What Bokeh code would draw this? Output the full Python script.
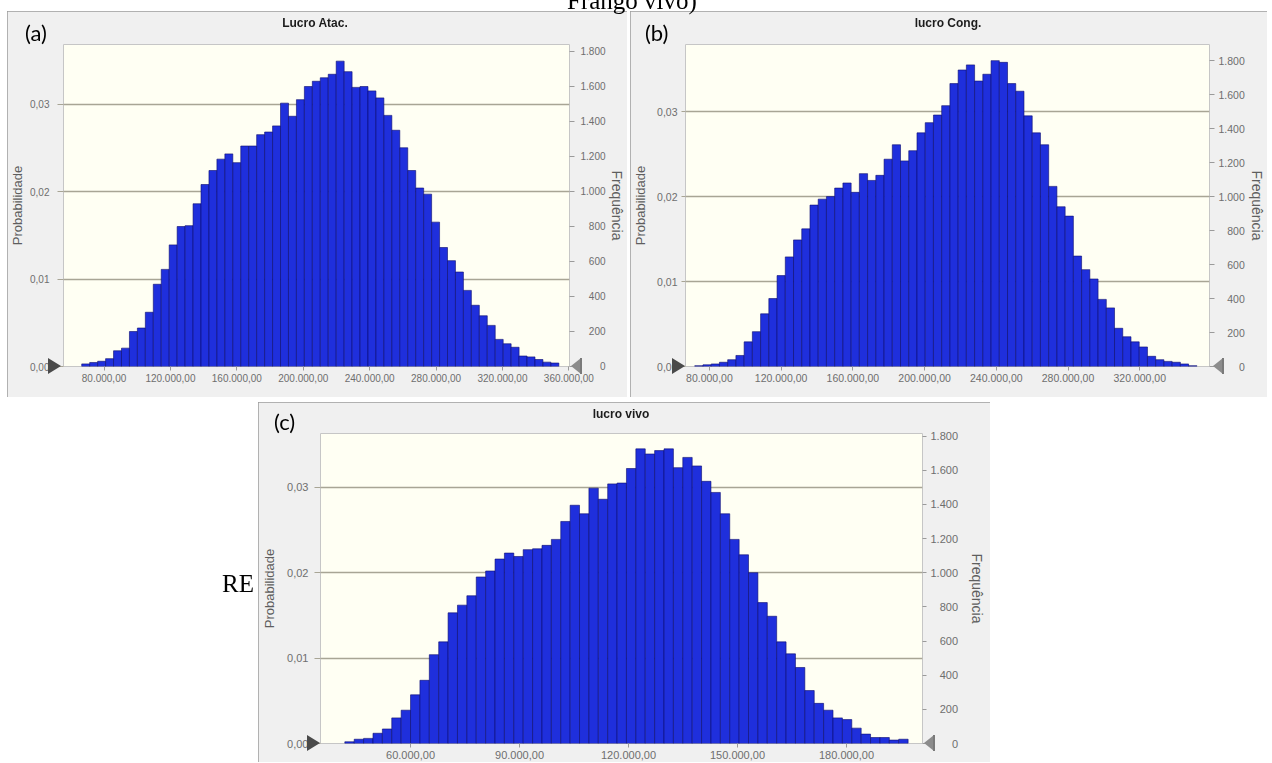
import numpy as np
from bokeh.plotting import figure
from bokeh.models import (Range1d, LinearAxis, FixedTicker, CustomJSTickFormatter, Div, Spacer)
from bokeh.layouts import row, column
from bokeh.embed import file_html
from bokeh.resources import INLINE

# ---------------- data ----------------
N_TRIALS = 50000

titles = ["Lucro Atac.", "lucro Cong.", "lucro vivo"]
tags = ["(a)", "(b)", "(c)"]

# probability of each histogram bin
prob_a = [0.0003, 0.00046, 0.0006, 0.0009, 0.0018, 0.0021, 0.0040, 0.0044, 0.0062, 0.0094,
          0.0111, 0.0139, 0.0160, 0.0161, 0.0186, 0.0208, 0.0224, 0.0237, 0.0243, 0.0233,
          0.0252, 0.0252, 0.0265, 0.0268, 0.0275, 0.0301, 0.0286, 0.0305, 0.0320, 0.0326,
          0.0330, 0.0334, 0.0349, 0.0337, 0.0319, 0.0320, 0.0315, 0.0307, 0.0287, 0.0270,
          0.0250, 0.0224, 0.0204, 0.0197, 0.0165, 0.0136, 0.0121, 0.0108, 0.0087, 0.0070,
          0.0058, 0.0047, 0.0031, 0.0026, 0.0022, 0.0012, 0.0011, 0.0008, 0.0005, 0.0004]

prob_b = [0.0001, 0.0002, 0.0003, 0.0005, 0.0008, 0.0013, 0.0029, 0.0041, 0.0062, 0.0080,
          0.0107, 0.0129, 0.0149, 0.0162, 0.0190, 0.0197, 0.0200, 0.0210, 0.0216, 0.0205,
          0.0227, 0.0219, 0.0225, 0.0244, 0.0261, 0.0242, 0.0254, 0.0275, 0.0287, 0.0296,
          0.0307, 0.0333, 0.0349, 0.0355, 0.0336, 0.0344, 0.0360, 0.0358, 0.0333, 0.0324,
          0.0295, 0.0275, 0.0261, 0.0212, 0.0188, 0.0177, 0.0130, 0.0114, 0.0103, 0.0079,
          0.0069, 0.0045, 0.0035, 0.0029, 0.0023, 0.0012, 0.0008, 0.0006, 0.0005, 0.0003,
          0.0001]

prob_c = [0.0002, 0.0005, 0.0006, 0.0012, 0.0017, 0.0030, 0.0039, 0.0057, 0.0074, 0.0104,
          0.0119, 0.0153, 0.0162, 0.0173, 0.0195, 0.0202, 0.0216, 0.0223, 0.0219, 0.0227,
          0.0228, 0.0232, 0.0239, 0.0260, 0.0279, 0.0269, 0.0299, 0.0286, 0.0304, 0.0305,
          0.0322, 0.0345, 0.0339, 0.0343, 0.0345, 0.0323, 0.0335, 0.0325, 0.0307, 0.0294,
          0.0269, 0.0239, 0.0221, 0.0200, 0.0165, 0.0149, 0.0119, 0.0105, 0.0089, 0.0062,
          0.0047, 0.0039, 0.0030, 0.0028, 0.0018, 0.0011, 0.0007, 0.0007, 0.0004, 0.0005]

# histogram value span (first bin left edge, last bin right edge)
bins_a = (66560, 353960)
bins_b = (71830, 351830)
bins_c = (41910, 196960)

# axis ranges
xrange_a = (55580, 360380)
xrange_b = (66670, 358890)
xrange_c = (35215, 200920)
ymax_a = 0.0368
ymax_b = 0.0379
ymax_c = 0.0363

xticks_a = [80000, 120000, 160000, 200000, 240000, 280000, 320000, 360000]
xticks_b = [80000, 120000, 160000, 200000, 240000, 280000, 320000]
xticks_c = [60000, 90000, 120000, 150000, 180000]
prob_ticks = [0.0, 0.01, 0.02, 0.03]
grid_ticks = [0.01, 0.02, 0.03]
freq_ticks = [0, 200, 400, 600, 800, 1000, 1200, 1400, 1600, 1800]

# ---------------- style / layout ----------------
PANEL_BG = "#f0f0f0"
PLOT_BG = "#fffff3"
BAR_FILL = "#1f2fdc"
BAR_LINE = "#0c0c6e"
GRID = "#a8a595"
TICK_TXT = "#6e6e6e"
AXLBL_TXT = "#5e5e5e"
SANS = "Liberation Sans"

# page geometry of the three panels: (left, top, width, height, borders l r t b)
GEOM_A = (7, 11, 620, 386, (54, 58, 33, 31))
GEOM_B = (630, 11, 637, 386, (55, 56, 33, 31))
GEOM_C = (258, 402, 732, 360, (62, 68, 31, 19))

fmt_x = CustomJSTickFormatter(code=r"""
const s = Math.round(tick).toString().replace(/\B(?=(\d{3})+(?!\d))/g, ".");
return s + ",00";
""")
fmt_prob = CustomJSTickFormatter(code="return tick.toFixed(2).replace('.', ',');")
# frequency labels are right-aligned in the original: pad with no-break spaces
fmt_freq = CustomJSTickFormatter(code=r"""
const s = Math.round(tick).toString().replace(/\B(?=(\d{3})+(?!\d))/g, ".");
const pad = s.length == 1 ? 7 : (s.length == 3 ? 3 : 0);
return "\u00a0".repeat(pad) + s;
""")


def make_panel(geom, probs, bins, xr, ymax, xticks, tick_font, ytk, rtk):
    _, _, width, height, (bl, br, bt, bb) = geom
    p = figure(width=width, height=height,
               x_range=Range1d(*xr), y_range=Range1d(0, ymax),
               output_backend="svg", toolbar_location=None,
               min_border_left=bl, min_border_right=br,
               min_border_top=bt, min_border_bottom=bb,
               background_fill_color=PLOT_BG, border_fill_color=PANEL_BG,
               outline_line_color="#c6c6c6", outline_line_width=1,
               styles={"outline": "1px solid #9c9c9c", "outline-offset": "-1px"})

    edges = np.linspace(bins[0], bins[1], len(probs) + 1)
    p.quad(left=edges[:-1], right=edges[1:], bottom=0, top=probs,
           fill_color=BAR_FILL, line_color=BAR_LINE, line_width=0.6)

    p.xgrid.visible = False
    p.ygrid.ticker = FixedTicker(ticks=grid_ticks)
    p.ygrid.grid_line_color = GRID
    p.ygrid.grid_line_width = 1.3

    xa = p.xaxis[0]
    xa.ticker = FixedTicker(ticks=xticks)
    xa.formatter = fmt_x
    xa.axis_line_color = None
    xa.major_tick_line_color = "#9a9a9a"
    xa.major_tick_in = 0
    xa.major_tick_out = 4
    xa.minor_tick_line_color = None
    xa.major_label_standoff = 3
    xa.major_label_text_font = SANS
    xa.major_label_text_font_size = tick_font
    xa.major_label_text_color = TICK_TXT

    ya = p.yaxis[0]
    ya.ticker = FixedTicker(ticks=prob_ticks)
    ya.formatter = fmt_prob
    ya.axis_line_color = None
    ya.major_tick_line_color = GRID
    ya.major_tick_in = 0
    ya.major_tick_out = ytk[0]
    ya.minor_tick_line_color = None
    ya.major_label_standoff = ytk[1]
    ya.major_label_text_font = SANS
    ya.major_label_text_font_size = tick_font
    ya.major_label_text_color = TICK_TXT
    ya.axis_label = "Probabilidade"
    ya.axis_label_text_font = SANS
    ya.axis_label_text_font_style = "normal"
    ya.axis_label_text_font_size = "13px"
    ya.axis_label_text_color = AXLBL_TXT
    ya.axis_label_standoff = ytk[2]

    p.extra_y_ranges = {"freq": Range1d(0, ymax * N_TRIALS)}
    ra = LinearAxis(y_range_name="freq", ticker=FixedTicker(ticks=freq_ticks),
                    formatter=fmt_freq, axis_label="Frequência")
    ra.axis_line_color = None
    ra.major_tick_line_color = "#9a9a9a"
    ra.major_tick_in = 0
    ra.major_tick_out = rtk[0]
    ra.minor_tick_line_color = None
    ra.major_label_standoff = rtk[1]
    ra.major_label_text_font = SANS
    ra.major_label_text_font_size = tick_font
    ra.major_label_text_color = TICK_TXT
    ra.axis_label_text_font = SANS
    ra.axis_label_text_font_style = "normal"
    ra.axis_label_text_font_size = "14px"
    ra.axis_label_text_color = AXLBL_TXT
    ra.axis_label_standoff = rtk[2]
    p.add_layout(ra, "right")
    return p


def fixed(style, content=""):
    return f'<div style="position:fixed; z-index:100; margin:0; padding:0; {style}">{content}</div>'


def panel_overlay(geom, title, tag, tag_dx, title_base, tag_base):
    """title, tag and end-grabbers of one panel, in page coordinates."""
    left, top, width, height, (bl, br, bt, bb) = geom
    fx0, fx1 = left + bl, left + width - br
    fy1 = top + height - bb
    cx = (fx0 + fx1) / 2
    parts = [
        # Liberation Sans bold 12px, line-height 12px -> baseline at top + 10.2
        fixed(f"left:{cx - 100}px; top:{title_base - 10.2}px; width:200px; text-align:center; "
              "font-family:'Liberation Sans'; font-weight:bold; font-size:12px; "
              "line-height:12px; color:#1c1c1c; white-space:nowrap;", title),
        # Lato 22px, line-height 22px -> baseline at top + 19.5
        fixed(f"left:{left + tag_dx}px; top:{tag_base - 19.5}px; font-family:Lato; "
              "font-size:22px; line-height:22px; color:#000; white-space:nowrap;", tag),
        fixed(f"left:{fx0 - 13}px; top:{fy1 - 8}px; width:0; height:0; "
              "border-top:8px solid transparent; border-bottom:8px solid transparent; "
              "border-left:13px solid #4a4a4a;"),
        fixed(f"left:{fx1 + 2}px; top:{fy1 - 8}px; width:0; height:0; "
              "border-top:8px solid transparent; border-bottom:8px solid transparent; "
              "border-right:10px solid #8c8c8c;"),
        fixed(f"left:{fx1 + 11}px; top:{fy1 - 8}px; width:2px; height:16px; "
              "background:#7a7a7a;"),
    ]
    return "".join(parts)


pa = make_panel(GEOM_A, prob_a, bins_a, xrange_a, ymax_a, xticks_a, "10px", (6, 8, 2), (5, 6, 0))
pb = make_panel(GEOM_B, prob_b, bins_b, xrange_b, ymax_b, xticks_b, "10.5px", (4, 4, 6), (5, 4, 1))
pc = make_panel(GEOM_C, prob_c, bins_c, xrange_c, ymax_c, xticks_c, "11px", (6, 6, 7), (4, 4, 8))

overlay_html = (
    panel_overlay(GEOM_A, titles[0], tags[0], 18, 27, 41)
    + panel_overlay(GEOM_B, titles[1], tags[1], 15, 27, 41)
    + panel_overlay(GEOM_C, titles[2], tags[2], 16, 418, 430)
    # document text fragments around the figure (Liberation Serif 25px, lh 26 -> base top+21.4)
    + fixed("left:567px; top:-12.4px; font-family:'Liberation Serif'; font-size:25px; "
            "line-height:26px; color:#000; white-space:nowrap;", "Frango vivo)")
    + fixed("left:222px; top:570.6px; font-family:'Liberation Serif'; font-size:25px; "
            "line-height:26px; color:#000; white-space:nowrap;", "RE")
)
overlay = Div(text=overlay_html, width=1, height=360, margin=0)

layout = column(Spacer(width=10, height=11),
                row(Spacer(width=7, height=386), pa, Spacer(width=3, height=386), pb),
                Spacer(width=10, height=5),
                row(Spacer(width=258, height=360), pc, overlay))

open("out.html", "w").write(file_html(layout, INLINE))
